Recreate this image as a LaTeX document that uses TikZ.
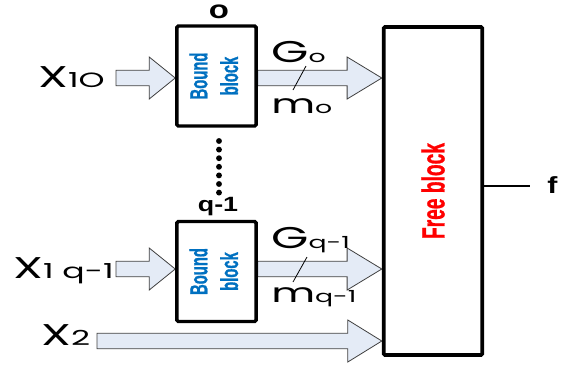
\documentclass[tikz,border=0pt]{standalone}
\usepackage{fontspec}
\usetikzlibrary{calc,backgrounds}
\newfontfamily\labfont[FakeStretch=1.6]{Poppins}
\newfontfamily\bfont[FakeStretch=1.3]{Liberation Sans}
\newfontfamily\narrowfont[FakeStretch=0.6,FakeBold=0.8]{Liberation Sans}
\definecolor{arrfill}{HTML}{E4EBF6}
\definecolor{arrline}{HTML}{404040}
\definecolor{bblue}{HTML}{0070C0}
\newcommand\fatarrow[3]{%
  \draw[fatarr] let \p1=(#1), \p2=(#2) in
    (\x1,\y1+5.8pt) -- (\x2-#3,\y1+5.8pt) -- (\x2-#3,\y1+15.75pt) -- (\x2,\y1)
    -- (\x2-#3,\y1-15.75pt) -- (\x2-#3,\y1-5.8pt) -- (\x1,\y1-5.8pt) -- cycle;}
\begin{document}
\begin{tikzpicture}[x=0.75pt,y=-0.75pt,
  bbox/.style={draw,line width=2.6pt,rounded corners=1pt,minimum width=59.3pt,minimum height=75pt,inner sep=0pt,
     text=bblue,font=\narrowfont\bfseries\fontsize{18.5}{23}\selectfont},
  fbox/.style={draw,line width=2.8pt,rounded corners=1pt,minimum width=74pt,minimum height=246pt,inner sep=0pt,
     text=red,font=\narrowfont\bfseries\fontsize{24}{28}\selectfont},
  fatarr/.style={fill=arrfill,draw=arrline,line width=0.6pt,line join=miter},
  lab/.style={inner sep=0pt,anchor=base west,font=\labfont},
  blab/.style={inner sep=0pt,font=\bfont\bfseries},
  slash/.style={line width=0.6pt}]
\useasboundingbox (0,0) rectangle (563,365);
% blocks
\node[bbox] (b0) at (216.5,76) {\rotatebox{90}{\begin{tabular}{@{}c@{}}Bound\\block\end{tabular}}};
\node[bbox] (bq) at (216.5,271.5) {\rotatebox{90}{\begin{tabular}{@{}c@{}}Bound\\block\end{tabular}}};
\node[fbox] (free) at (433,191) {\rotatebox{90}{Free block}};
% input coordinates
\coordinate (x10in) at (116,78);
\coordinate (x1qin) at (116,269);
\coordinate (x2in) at (97,341);
\coordinate (fout) at (530,186);
% arrows
\begin{scope}[on background layer]
\fatarrow{x10in}{b0.west |- x10in}{19.5pt}
\fatarrow{b0.east |- x10in}{free.west |- x10in}{26pt}
\fatarrow{x1qin}{bq.west |- x1qin}{19.5pt}
\fatarrow{bq.east |- x1qin}{free.west |- x1qin}{26pt}
\fatarrow{x2in}{free.west |- x2in}{25.5pt}
\end{scope}
\draw[line width=2.2pt] (free.east |- fout) -- (fout);
% dots
\foreach \i in {0,...,6} \fill (219,141+8.6*\i) circle (2.2pt);
% labels
\node[blab] (l0) at (219,12) {\fontsize{19}{19}\selectfont o};
\node[blab,anchor=base] (lq) at (218,211) {\fontsize{15.5}{16}\selectfont q-1};
\node[blab,anchor=base west] (lf) at (547,193) {\fontsize{17.5}{18}\selectfont f};
\node[lab] (lx10) at (38,87) {\fontsize{22.5}{23}\selectfont X\fontsize{15.5}{16}\selectfont 1O};
\node[lab] (lx1q) at (13,278) {\fontsize{22.5}{23}\selectfont X\fontsize{15.5}{16}\selectfont 1 q-1};
\node[lab] (lx2) at (41,345) {\fontsize{22.5}{23}\selectfont X\fontsize{15.5}{16}\selectfont 2};
\node[lab] (lg0) at (271,62) {\fontsize{22.5}{23}\selectfont G\fontsize{12.5}{13}\selectfont o};
\node[lab] (lm0) at (271,113) {\fontsize{20}{20}\selectfont m\fontsize{12.5}{13}\selectfont o};
\node[lab] (lgq) at (271,248) {\fontsize{22.5}{23}\selectfont G\fontsize{12.5}{13}\selectfont q-1};
\node[lab] (lmq) at (271,302) {\fontsize{20}{20}\selectfont m\fontsize{12.5}{13}\selectfont q-1};
\draw[slash] (306,66) -- (293,90);
\draw[slash] (307,257) -- (293,282);
\end{tikzpicture}
\end{document}
